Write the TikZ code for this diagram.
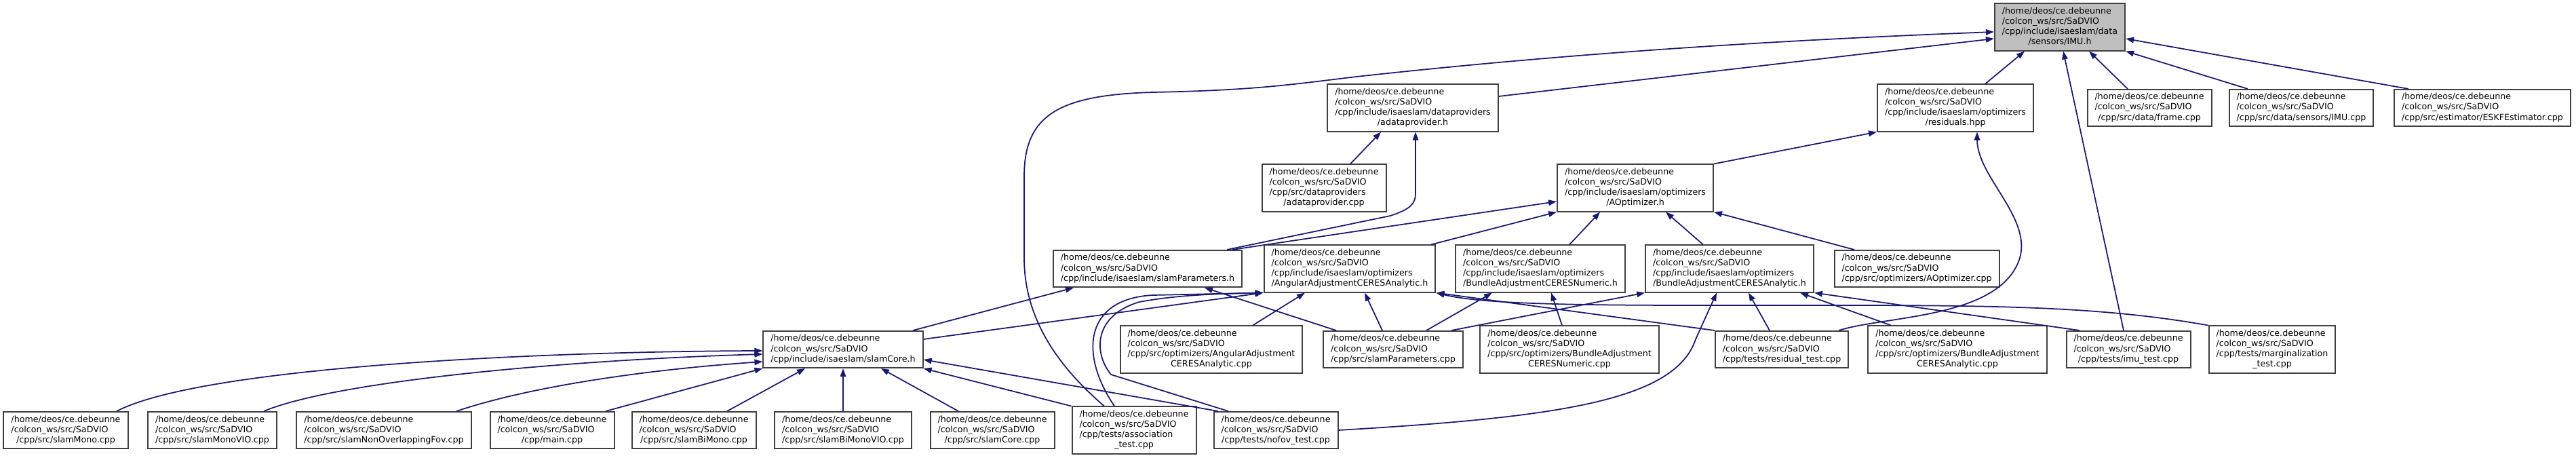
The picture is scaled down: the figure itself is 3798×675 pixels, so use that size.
\documentclass[tikz,border=0pt]{standalone}
\usepackage{fontspec}
\setmainfont{DejaVu Sans}
\usepackage{tikz}
\usetikzlibrary{arrows.meta,calc}
\definecolor{edgeblue}{RGB}{25,25,112}
\definecolor{rootgray}{RGB}{191,191,191}
\definecolor{boxline}{RGB}{64,64,64}
\newcommand{\srcprefix}{/home/deos/ce.debeunne\\/colcon\_ws/src/SaDVIO}
\newcommand{\threeline}[1]{\begin{tabular}{@{}l@{}}\srcprefix\\\multicolumn{1}{@{}c@{}}{#1}\end{tabular}}
\newcommand{\fourline}[2]{\begin{tabular}{@{}l@{}}\srcprefix\\#1\\\multicolumn{1}{@{}c@{}}{#2}\end{tabular}}
\tikzset{
  filebox/.style={draw=boxline, line width=0.04cm, fill=white, inner xsep=0.22cm, inner ysep=0.09cm, font=\fontsize{7.2pt}{8.54pt}\selectfont},
  rootbox/.style={filebox, fill=rootgray},
  incl/.style={draw=edgeblue, line width=0.035cm, -{Triangle[length=0.24cm,width=0.17cm]}}
}
\begin{document}
\begin{tikzpicture}[x=0.02cm,y=-0.02cm]
  \useasboundingbox (0,0) rectangle (3798,675);
  % headers and sources, row by row
  \node[rootbox] (imu) at (3037,40) {\fourline{/cpp/include/isaeslam/data}{/sensors/IMU.h}};
  \node[filebox] (adpH) at (2083,159) {\fourline{/cpp/include/isaeslam/dataproviders}{/adataprovider.h}};
  \node[filebox] (resid) at (2883,159) {\fourline{/cpp/include/isaeslam/optimizers}{/residuals.hpp}};
  \node[filebox] (frameCpp) at (3169,159) {\threeline{/cpp/src/data/frame.cpp}};
  \node[filebox] (imuCpp) at (3393,159) {\threeline{/cpp/src/data/sensors/IMU.cpp}};
  \node[filebox] (eskf) at (3660,159) {\threeline{/cpp/src/estimator/ESKFEstimator.cpp}};
  \node[filebox] (adpCpp) at (1952,277) {\fourline{/cpp/src/dataproviders}{/adataprovider.cpp}};
  \node[filebox] (aopt) at (2411,277) {\fourline{/cpp/include/isaeslam/optimizers}{/AOptimizer.h}};
  \node[filebox] (slamParH) at (1692,396) {\threeline{/cpp/include/isaeslam/slamParameters.h}};
  \node[filebox] (angH) at (1990,396) {\fourline{/cpp/include/isaeslam/optimizers}{/AngularAdjustmentCERESAnalytic.h}};
  \node[filebox] (banH) at (2271,396) {\fourline{/cpp/include/isaeslam/optimizers}{/BundleAdjustmentCERESNumeric.h}};
  \node[filebox] (baaH) at (2550,396) {\fourline{/cpp/include/isaeslam/optimizers}{/BundleAdjustmentCERESAnalytic.h}};
  \node[filebox] (aoptCpp) at (2826,396) {\threeline{/cpp/src/optimizers/AOptimizer.cpp}};
  \node[filebox] (slamCoreH) at (1243,515) {\threeline{/cpp/include/isaeslam/slamCore.h}};
  \node[filebox] (angCpp) at (1786,515) {\fourline{/cpp/src/optimizers/AngularAdjustment}{CERESAnalytic.cpp}};
  \node[filebox] (slamParCpp) at (2054,515) {\threeline{/cpp/src/slamParameters.cpp}};
  \node[filebox] (banCpp) at (2314,515) {\fourline{/cpp/src/optimizers/BundleAdjustment}{CERESNumeric.cpp}};
  \node[filebox] (residTest) at (2627,515) {\threeline{/cpp/tests/residual\_test.cpp}};
  \node[filebox] (baaCpp) at (2886,515) {\fourline{/cpp/src/optimizers/BundleAdjustment}{CERESAnalytic.cpp}};
  \node[filebox] (imuTest) at (3138,515) {\threeline{/cpp/tests/imu\_test.cpp}};
  \node[filebox] (margTest) at (3350,515) {\fourline{/cpp/tests/marginalization}{\_test.cpp}};
  \node[filebox] (slamMono) at (97,634) {\threeline{/cpp/src/slamMono.cpp}};
  \node[filebox] (slamMonoVIO) at (313,634) {\threeline{/cpp/src/slamMonoVIO.cpp}};
  \node[filebox] (nonOverlap) at (566,634) {\threeline{/cpp/src/slamNonOverlappingFov.cpp}};
  \node[filebox] (mainCpp) at (814,634) {\threeline{/cpp/main.cpp}};
  \node[filebox] (biMono) at (1023,634) {\threeline{/cpp/src/slamBiMono.cpp}};
  \node[filebox] (biMonoVIO) at (1243,634) {\threeline{/cpp/src/slamBiMonoVIO.cpp}};
  \node[filebox] (slamCoreCpp) at (1463,634) {\threeline{/cpp/src/slamCore.cpp}};
  \node[filebox] (assocTest) at (1672,634) {\fourline{/cpp/tests/association}{\_test.cpp}};
  \node[filebox] (nofovTest) at (1881,634) {\threeline{/cpp/tests/nofov\_test.cpp}};
  % includes of IMU.h
  \draw[incl] ($(adpH.east)+(0,-17)$) -- ($(imu.west)+(0,17)$);
  \draw[incl] ($(resid.north)+(44,0)$) -- ($(imu.south)+(-52,0)$);
  \draw[incl] ($(frameCpp.north)+(-32,0)$) -- ($(imu.south)+(43,0)$);
  \draw[incl] ($(imuCpp.north)+(-79,0)$) -- (imu.south east);
  \draw[incl] ($(eskf.north)+(-109,0)$) -- ($(imu.east)+(0,17)$);
  \draw[incl] ($(imuTest.north)+(-7,0)$) -- ($(imu.south)+(5,0)$);
  \draw[incl] ($(assocTest.north)+(-44,0)$) .. controls (1560,540) and (1510,470) .. (1510,380) -- (1510,260) .. controls (1510,170) and (1560,140) .. (1700,136) .. controls (1850,133) and (1900,125) .. (2000,113) .. controls (2300,80) and (2600,60) .. ($(imu.west)+(0,7)$);
  % adataprovider.h and residuals.hpp
  \draw[incl] ($(adpCpp.north)+(39,0)$) -- ($(adpH.south)+(-47,0)$);
  \draw[incl] ($(slamParH.north)+(117,0)$) -- (2050,318) .. controls (2080,308) and (2087,300) .. (2087,285) -- ($(adpH.south)+(4,0)$);
  \draw[incl] (aopt.north east) -- (resid.south west);
  \draw[incl] ($(residTest.north)+(84,0)$) .. controls (2780,465) and (2950,470) .. (2978,380) .. controls (2995,320) and (2915,260) .. ($(resid.south)+(32,0)$);
  % AOptimizer.h
  \draw[incl] ($(slamParH.north)+(125,0)$) -- ($(aopt.west)+(0,20)$);
  \draw[incl] ($(angH.north)+(120,0)$) -- (aopt.south west);
  \draw[incl] ($(banH.north)+(43,0)$) -- ($(aopt.south)+(-52,0)$);
  \draw[incl] ($(baaH.north)+(-39,0)$) -- ($(aopt.south)+(45,0)$);
  \draw[incl] ($(aoptCpp.north)+(-92,0)$) -- (aopt.south east);
  % slamParameters.h
  \draw[incl] ($(slamCoreH.north)+(103,0)$) -- ($(slamParH.south)+(-109,0)$);
  \draw[incl] ($(slamParCpp.north)+(-84,0)$) -- ($(slamParH.south)+(84,0)$);
  % AngularAdjustmentCERESAnalytic.h
  \draw[incl] ($(slamCoreH.east)+(0,-15)$) -- (angH.south west);
  \draw[incl] ($(angCpp.north)+(61,0)$) -- ($(angH.south)+(-66,0)$);
  \draw[incl] ($(slamParCpp.north)+(-16,0)$) -- ($(angH.south)+(22,0)$);
  \draw[incl] ($(assocTest.north)+(-29,0)$) .. controls (1590,520) and (1600,440) .. (1700,435) -- (angH.south west);
  \draw[incl] ($(nofovTest.north)+(-70,0)$) -- (1638,552) .. controls (1612,520) and (1612,465) .. (1680,445) .. controls (1740,434) and (1800,433) .. (angH.south west);
  \draw[incl] (residTest.north west) -- (angH.south east);
  \draw[incl] (margTest.north west) .. controls (3100,452) and (2950,450) .. (2700,450) .. controls (2400,450) and (2200,452) .. (angH.south east);
  % BundleAdjustment headers
  \draw[incl] ($(slamParCpp.north)+(49,0)$) -- ($(banH.south)+(-71,0)$);
  \draw[incl] ($(banCpp.north)+(-11,0)$) -- ($(banH.south)+(16,0)$);
  \draw[incl] ($(slamParCpp.north)+(86,0)$) -- (baaH.south west);
  \draw[incl] (nofovTest.east) .. controls (2300,615) and (2470,590) .. (2500,500) -- ($(baaH.south)+(-19,0)$);
  \draw[incl] ($(residTest.north)+(-18,0)$) -- ($(baaH.south)+(28,0)$);
  \draw[incl] ($(baaCpp.north)+(-98,0)$) -- ($(baaH.south)+(104,0)$);
  \draw[incl] ($(imuTest.north)+(-72,0)$) -- (baaH.south east);
  % slamCore.h
  \draw[incl] ($(slamMono.north)+(75,0)$) .. controls (300,540) and (800,518) .. ($(slamCoreH.west)+(0,2)$);
  \draw[incl] ($(slamMonoVIO.north)+(76,0)$) .. controls (500,560) and (850,530) .. ($(slamCoreH.west)+(0,7)$);
  \draw[incl] ($(nonOverlap.north)+(107,0)$) .. controls (780,570) and (950,545) .. ($(slamCoreH.west)+(0,18)$);
  \draw[incl] ($(mainCpp.north)+(79,0)$) -- (slamCoreH.south west);
  \draw[incl] ($(biMono.north)+(49,0)$) -- ($(slamCoreH.south)+(-56,0)$);
  \draw[incl] (biMonoVIO.north) -- (slamCoreH.south);
  \draw[incl] ($(slamCoreCpp.north)+(-50,0)$) -- ($(slamCoreH.south)+(56,0)$);
  \draw[incl] (assocTest.north west) -- (slamCoreH.south east);
  \draw[incl] ($(nofovTest.north)+(-85,0)$) -- ($(slamCoreH.east)+(0,15)$);
\end{tikzpicture}
\end{document}
